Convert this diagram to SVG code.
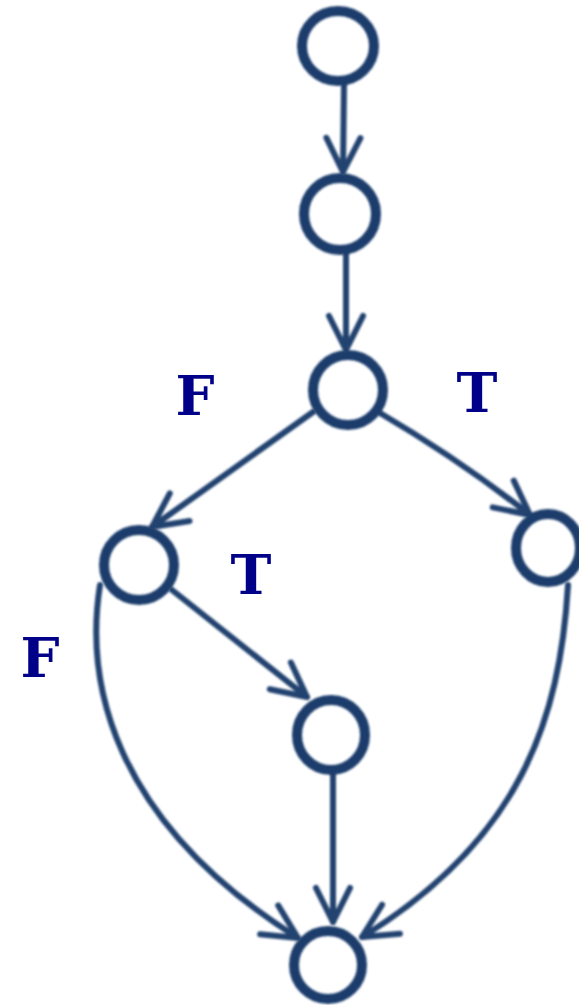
<svg xmlns="http://www.w3.org/2000/svg" width="579" height="1005" viewBox="0 0 579 1005">
<style>
.node{fill:none;stroke:#1f3d6c;stroke-width:10}
.edge{fill:none;stroke:#23426f;stroke-width:6;stroke-linecap:round;marker-end:url(#arr)}
.lbl{font-family:"DejaVu Serif","Liberation Serif",serif;font-weight:bold;font-size:55px;fill:#000088;text-anchor:middle}
</style>
<defs>
<filter id="soft" x="-10%" y="-10%" width="120%" height="120%"><feGaussianBlur stdDeviation="1"/></filter>
<marker id="arr" markerUnits="userSpaceOnUse" markerWidth="50" markerHeight="50" viewBox="-42 -25 48 50" refX="0" refY="0" orient="auto">
<path d="M -34 -17 L 0 0 L -34 17" fill="none" stroke="#23426f" stroke-width="6" stroke-linecap="round" stroke-linejoin="round"/>
</marker>
</defs>
<rect width="579" height="1005" fill="#ffffff"/>
<g id="connectors" filter="url(#soft)">
<path class="edge" d="M 344 84 L 343 172"/>
<path class="edge" d="M 346 253 L 346 350"/>
<path class="edge" d="M 313 412 L 152 527"/>
<path class="edge" d="M 380 413 Q 460 460 530 515"/>
<path class="edge" d="M 172 590 L 307 697"/>
<path class="edge" d="M 100 585 C 85 680 110 820 298 938"/>
<path class="edge" d="M 333 773 L 333 922"/>
<path class="edge" d="M 568 585 C 560 720 520 840 362 937"/>
</g>
<g id="n1" filter="url(#soft)"><ellipse class="node" cx="338" cy="46" rx="36" ry="35"/></g>
<g id="n2" filter="url(#soft)"><ellipse class="node" cx="340" cy="214" rx="36" ry="36"/></g>
<g id="n3" filter="url(#soft)"><ellipse class="node" cx="348" cy="390" rx="35" ry="35"/></g>
<g id="n4" filter="url(#soft)"><ellipse class="node" cx="139" cy="565" rx="35" ry="35"/></g>
<g id="n5" filter="url(#soft)"><ellipse class="node" cx="548" cy="548" rx="32" ry="34"/></g>
<g id="n6" filter="url(#soft)"><ellipse class="node" cx="331" cy="735" rx="34" ry="35"/></g>
<g id="n7" filter="url(#soft)"><ellipse class="node" cx="328" cy="965" rx="34" ry="34"/></g>
<g id="labels">
<text class="lbl" x="195" y="415">F</text>
<text class="lbl" x="477" y="412">T</text>
<text class="lbl" x="251" y="594">T</text>
<text class="lbl" x="40" y="677">F</text>
</g>
</svg>
